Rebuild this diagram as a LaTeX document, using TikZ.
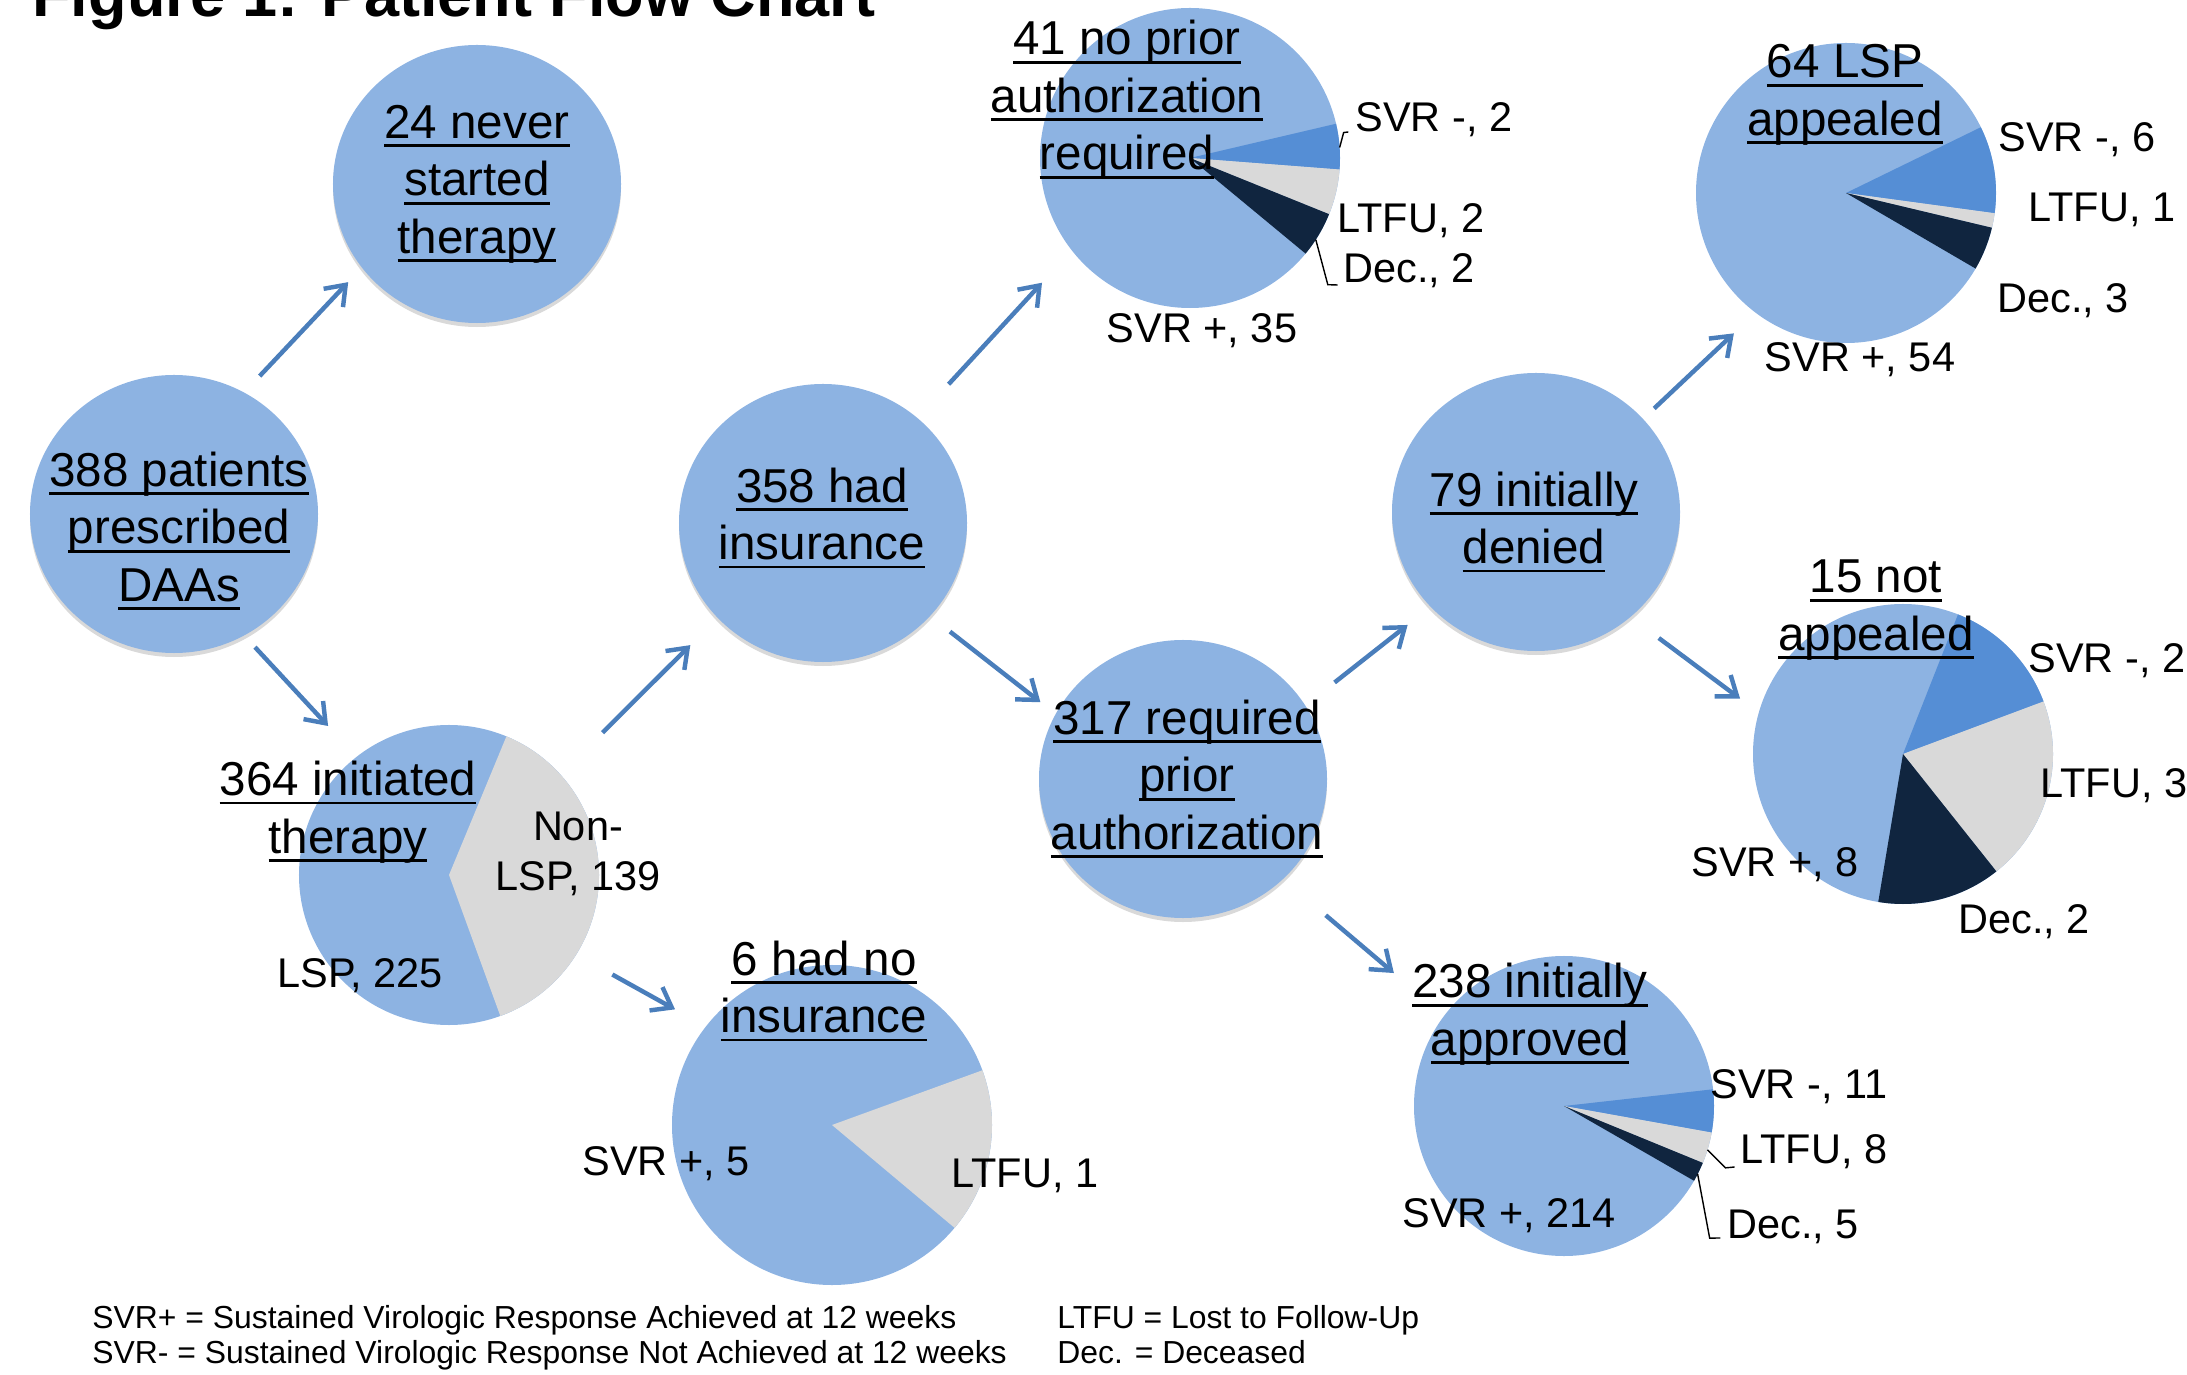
\documentclass[tikz,border=0pt]{standalone}
\usepackage{fontspec}
\setmainfont{Liberation Sans}
\usetikzlibrary{arrows.meta,shapes.geometric,shadows}
\definecolor{lblue}{HTML}{8DB3E2}
\definecolor{mblue}{HTML}{558ED5}
\definecolor{lgrey}{HTML}{D9D9D9}
\definecolor{navy}{HTML}{10253F}
\definecolor{arrowblue}{HTML}{4A7EBB}
\newcommand{\uln}[1]{\setbox0\hbox{#1}\rlap{\rule[-3.8pt]{\wd0}{1.2pt}}\box0}
\begin{document}
\begin{tikzpicture}[x=0.015cm,y=0.015cm,
    bubble/.style={ellipse,fill=lblue,minimum width=4.32cm,minimum height=4.17cm,inner sep=0pt,outer sep=0pt,
      drop shadow={shadow xshift=0pt,shadow yshift=-0.06cm,opacity=0.3,fill=black!50}},
    piechart/.style={circle,fill=lblue,minimum size=4.5cm,inner sep=0pt,outer sep=0pt},
    heading/.style={align=center,inner sep=0pt,font=\fontsize{20.3}{24.5}\selectfont},
    datalabel/.style={inner sep=0pt,font=\fontsize{17.7}{21.3}\selectfont},
    keytext/.style={anchor=base west,inner sep=0pt,font=\fontsize{13.6}{16}\selectfont},
    flow/.style={draw=arrowblue,line width=1.9pt,-{Straight Barb[length=0.27cm,width=0.4cm]}},
    leader/.style={draw,line width=0.6pt}]
  \useasboundingbox (0,0) rectangle (2187,1374);
  \clip (0,0) rectangle (2187,1374);

  \node[anchor=base west,inner sep=0pt,font=\bfseries\fontsize{26.9}{30}\selectfont] (title) at (32,1357) {Figure 1: Patient Flow Chart};

  \node[bubble] (c388) at (174,860) {};
  \node[bubble] (c24) at (477,1190) {};
  \node[bubble] (c358) at (823,851) {};
  \node[bubble] (c317) at (1183,595) {};
  \node[bubble] (c79) at (1536,862) {};

  \node[piechart] (p364) at (449,499) {};
  \node[piechart,minimum size=4.8cm] (p6) at (832,249) {};
  \node[piechart] (p41) at (1190,1216) {};
  \node[piechart] (p64) at (1846,1181) {};
  \node[piechart] (p15) at (1903,620) {};
  \node[piechart] (p238) at (1564,268) {};

  \fill[lgrey] (p364.center) -- ++(-70:150) arc[start angle=-70,end angle=67.5,radius=150] -- cycle;
  \fill[lgrey] (p6.center) -- ++(-40:160) arc[start angle=-40,end angle=20,radius=160] -- cycle;
  \fill[mblue] (p41.center) -- ++(13.2:150) arc[start angle=13.2,end angle=-4.4,radius=150] -- cycle;
  \fill[lgrey] (p41.center) -- ++(-4.4:150) arc[start angle=-4.4,end angle=-22,radius=150] -- cycle;
  \fill[navy] (p41.center) -- ++(-22:150) arc[start angle=-22,end angle=-39.6,radius=150] -- cycle;
  \fill[mblue] (p64.center) -- ++(26:150) arc[start angle=26,end angle=-7.75,radius=150] -- cycle;
  \fill[lgrey] (p64.center) -- ++(-7.75:150) arc[start angle=-7.75,end angle=-13.4,radius=150] -- cycle;
  \fill[navy] (p64.center) -- ++(-13.4:150) arc[start angle=-13.4,end angle=-30.25,radius=150] -- cycle;
  \fill[mblue] (p15.center) -- ++(68.5:150) arc[start angle=68.5,end angle=20.5,radius=150] -- cycle;
  \fill[lgrey] (p15.center) -- ++(20.5:150) arc[start angle=20.5,end angle=-51.5,radius=150] -- cycle;
  \fill[navy] (p15.center) -- ++(-51.5:150) arc[start angle=-51.5,end angle=-99.5,radius=150] -- cycle;
  \fill[mblue] (p238.center) -- ++(6.4:150) arc[start angle=6.4,end angle=-10.2,radius=150] -- cycle;
  \fill[lgrey] (p238.center) -- ++(-10.2:150) arc[start angle=-10.2,end angle=-22.3,radius=150] -- cycle;
  \fill[navy] (p238.center) -- ++(-22.3:150) arc[start angle=-22.3,end angle=-29.9,radius=150] -- cycle;

  \node[heading] (c388t) at (179,843) {\uln{388 patients}\\\uln{prescribed}\\\uln{DAAs}};
  \node[heading] (c24t) at (477,1190) {\uln{24 never}\\\uln{started}\\\uln{therapy}};
  \node[heading] (c358t) at (822,856) {\uln{358 had}\\\uln{insurance}};
  \node[heading] (c317t) at (1187,595) {\uln{317 required}\\\uln{prior}\\\uln{authorization}};
  \node[heading] (c79t) at (1534,852) {\uln{79 initially}\\\uln{denied}};
  \node[heading] (p364t) at (348,562) {\uln{364 initiated}\\\uln{therapy}};
  \node[heading] (p6t) at (824,383) {\uln{6 had no}\\\uln{insurance}};
  \node[heading] (p41t) at (1127,1274) {\uln{41 no prior}\\\uln{authorization}\\\uln{required}};
  \node[heading] (p64t) at (1845,1279) {\uln{64 LSP}\\\uln{appealed}};
  \node[heading] (p15t) at (1876,764) {\uln{15 not}\\\uln{appealed}};
  \node[heading] (p238t) at (1530,360) {\uln{238 initially}\\\uln{approved}};

  \node[datalabel,align=center] (nonlsp) at (578,520) {Non-\\LSP, 139};
  \node[datalabel,anchor=base] (lsp) at (360,387) {LSP, 225};
  \node[datalabel,anchor=base] (svrp6) at (666,199) {SVR +, 5};
  \node[datalabel,anchor=base] (ltfu6) at (1025,187) {LTFU, 1};
  \node[datalabel,anchor=base west] (svrm41) at (1355,1242) {SVR -, 2};
  \node[datalabel,anchor=base west] (ltfu41) at (1337,1141) {LTFU, 2};
  \node[datalabel,anchor=base west] (dec41) at (1343,1091) {Dec., 2};
  \node[datalabel,anchor=base] (svrp41) at (1202,1031) {SVR +, 35};
  \node[datalabel,anchor=base west] (svrm64) at (1998,1222) {SVR -, 6};
  \node[datalabel,anchor=base west] (ltfu64) at (2028,1152) {LTFU, 1};
  \node[datalabel,anchor=base west] (dec64) at (1997,1061) {Dec., 3};
  \node[datalabel,anchor=base] (svrp64) at (1860,1002) {SVR +, 54};
  \node[datalabel,anchor=base west] (svrm15) at (2028,701) {SVR -, 2};
  \node[datalabel,anchor=base west] (ltfu15) at (2040,577) {LTFU, 3};
  \node[datalabel,anchor=base west] (dec15) at (1958,441) {Dec., 2};
  \node[datalabel,anchor=base west] (svrp15) at (1691,497) {SVR +, 8};
  \node[datalabel,anchor=base west] (svrm238) at (1710,276) {SVR -, 11};
  \node[datalabel,anchor=base west] (ltfu238) at (1740,211) {LTFU, 8};
  \node[datalabel,anchor=base west] (dec238) at (1727,136) {Dec., 5};
  \node[datalabel,anchor=base west] (svrp238) at (1402,147) {SVR +, 214};

  \draw[leader] (p41.4) -- ++(4,15) -- ([xshift=-0.1cm]svrm41.base west);
  \draw[leader] (p41.-33) -- ++(12,-45) -- ([xshift=-0.08cm,yshift=-0.03cm]dec41.base west);
  \draw[leader] (p238.-17) -- ++(18,-18) -- ([xshift=-0.08cm,yshift=-0.06cm]ltfu238.base west);
  \draw[leader] (p238.-27) -- ++(12,-64) -- ([xshift=-0.1cm]dec238.base west);

  \draw[flow,shorten <=0.34cm,shorten >=0.30cm] (c388.60) -- (c24.216);
  \draw[flow,shorten <=0.24cm,shorten >=0.63cm] (c388.-60) -- (p364.128);
  \draw[flow,shorten <=0.89cm,shorten >=0.58cm] (p364.42) -- (c358.222);
  \draw[flow,shorten <=0.62cm,shorten >=0.53cm] (p364.-32) -- (p6.142);
  \draw[flow,shorten <=0.69cm,shorten >=0.66cm] (c358.48) -- (p41.218);
  \draw[flow,shorten <=0.38cm,shorten >=0.29cm] (c358.-41) -- (c317.153);
  \draw[flow,shorten <=0.56cm,shorten >=0.44cm] (c317.31) -- (c79.222);
  \draw[flow,shorten <=0.84cm,shorten >=0.99cm] (c317.-45) -- (p238.143);
  \draw[flow,shorten <=0.23cm,shorten >=0.45cm] (c79.41) -- (p64.233);
  \draw[flow,shorten <=0.53cm,shorten >=0.35cm] (c79.-48) -- (p15.164);

  \node[keytext] (k1) at (92,46) {SVR+ = Sustained Virologic Response Achieved at 12 weeks};
  \node[keytext] (k2) at (92,11) {SVR- = Sustained Virologic Response Not Achieved at 12 weeks};
  \node[keytext] (k3) at (1057,46) {LTFU = Lost to Follow-Up};
  \node[keytext] (k4) at (1057,11) {Dec. = Deceased};
\end{tikzpicture}
\end{document}
